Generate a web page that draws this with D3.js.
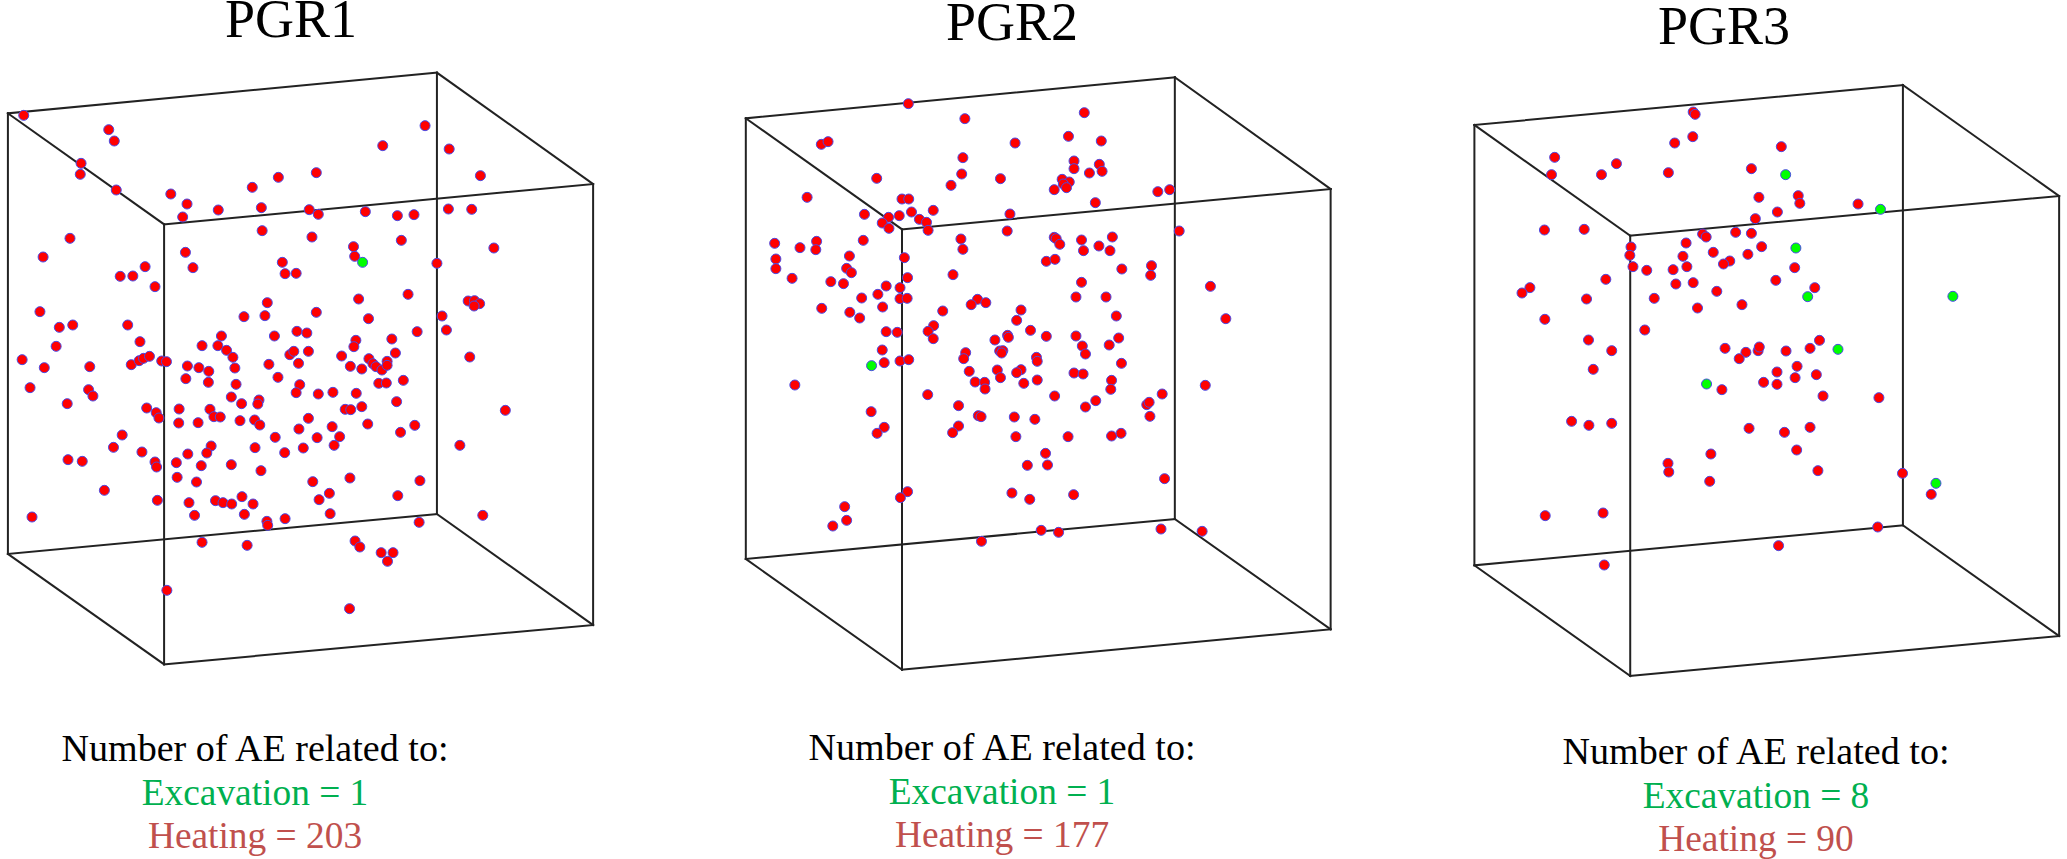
<!DOCTYPE html>
<html>
<head>
<meta charset="utf-8">
<style>
  html, body { margin: 0; background: #fff; }
  svg { display: block; }
  text { font-family: "Liberation Serif", serif; text-anchor: middle; }
</style>
</head>
<body>
<div id="chart"></div>
<script src="https://d3js.org/d3.v7.min.js"></script>
<script>
// Values, in projected plot units
var titles = ["PGR1", "PGR2", "PGR3"];
var excavationCounts = [1, 1, 8];
var heatingCounts = [203, 177, 90];

var cube1 = [[20,160],[1105,38],[1500,372],[415,493],[20,1482],[1105,1362],[1500,1695],[415,1813]];
var cube2 = [[40,115],[1125,-8],[1519,327],[435,448],[40,1437],[1125,1317],[1519,1648],[435,1769]];
var cube3 = [[62,105],[1151,-15],[1548,318],[458,437],[62,1426],[1151,1306],[1548,1638],[458,1758]];

var pgr1Heating = [[60,166],[275,209],[289,243],[205,310],[203,343],[294,390],[432,402],[473,432],[462,471],[552,450],[661,443],[638,382],[704,352],[800,338],[968,257],[1075,197],[1136,267],[1215,347],[782,449],[805,463],[924,455],[1005,467],[1047,464],[1134,447],[1193,448],[663,512],[789,531],[1015,541],[1249,564],[894,560],[897,589],[177,535],[109,591],[469,577],[488,623],[367,620],[304,649],[336,648],[392,680],[714,607],[721,641],[749,640],[1105,610],[1032,703],[907,717],[676,728],[1184,723],[1200,722],[1213,731],[1199,738],[101,755],[150,802],[184,795],[323,795],[617,770],[670,767],[800,757],[932,776],[1118,768],[1129,810],[560,828],[694,828],[751,814],[776,819],[1055,815],[900,841],[895,860],[991,837],[354,845],[511,857],[551,857],[142,859],
  [573,871],[589,892],[733,884],[743,874],[780,874],[864,888],[1000,879],[933,896],[1188,891],[56,899],[112,923],[227,920],[332,914],[352,902],[363,895],[378,889],[409,903],[421,905],[474,918],[503,923],[528,934],[594,924],[680,913],[755,910],[886,919],[915,927],[943,911],[951,920],[966,930],[979,904],[979,916],[470,956],[527,967],[597,973],[703,952],[758,974],[749,998],[805,1002],[842,997],[901,1000],[958,970],[977,969],[1020,961],[76,983],[224,989],[235,1008],[170,1031],[585,1011],[655,1020],[652,1032],[611,1031],[1003,1025],[371,1044],[395,1058],[402,1074],[453,1047],[531,1048],[541,1070],[557,1071],[873,1048],[887,1049],[915,1040],[1278,1051],[452,1089],[501,1088],[607,1082],[644,1080],[657,1095],[780,1075],[840,1100],[756,1107],[930,1092],[1049,1096],[1013,1117],[309,1125],[696,1132],[802,1133],[859,1130],[845,1156],[287,1162],[534,1158],[645,1163],[767,1164],[1163,1156],[359,1176],[523,1179],[720,1178],[475,1182],[172,1199],[208,1204],[392,1206],[396,1221],[446,1208],[509,1217],[585,1214],[660,1232],[448,1252],[497,1266],[791,1265],[885,1254],[1062,1262],[264,1291],[833,1300],[807,1319],[1006,1307],[398,1321],[478,1328],[545,1322],[564,1328],[586,1332],[612,1310],[640,1332],[492,1366],[618,1363],[835,1361],[721,1376],[675,1384],[677,1396],[81,1371],[1221,1366],[1060,1387],[511,1447],[625,1456],[898,1443],[910,1461],[964,1478],[994,1478],[980,1504],[422,1591],[884,1646]];
var pgr1Excavation = [[917,607]];

var pgr2Heating = [[451,71],[594,116],[896,98],[231,193],[248,185],[721,189],[856,169],[939,183],[589,233],[870,243],[870,266],[934,253],[941,274],[909,279],[586,282],[684,296],[371,295],[559,316],[840,298],[858,306],[843,312],[851,323],[820,329],[1082,335],[1112,329],[195,352],[435,357],[452,357],[924,368],[514,391],[459,396],[428,407],[340,403],[401,412],[479,418],[385,429],[497,427],[708,402],[402,445],[501,451],[701,453],[1136,453],[113,490],[177,503],[219,484],[217,509],[337,481],[584,477],[589,508],[820,472],[825,476],[834,493],[889,480],[894,512],[933,498],[967,471],[961,512],[302,528],[441,533],[800,544],[822,538],[116,537],[116,566],[295,565],[307,578],[157,595],[255,605],[287,611],[449,593],[564,584],[991,567],[1066,557],[1064,586],[889,607],[1215,619],[395,618],[430,623],[374,643],[333,654],[430,656],[448,655],[626,658],[610,674],[647,668],[875,651],[951,651],[232,685],[386,681],[303,697],[328,714],[538,693],[736,690],[725,721],[977,708],[1254,716],[515,737],[501,754],[514,776],[395,755],[423,757],[702,766],[704,772],[670,780],[760,751],[800,769],[875,768],[983,774],[959,795],[891,798],[899,822],[596,818],[591,836],[682,813],[690,812],[687,819],[775,832],[777,844],[385,810],[390,848],[430,843],[452,839],[990,850],
  [605,874],[676,870],[736,869],[725,878],[684,893],[870,879],[893,882],[620,906],[644,907],[645,927],[743,910],[777,900],[965,901],[963,928],[164,915],[1202,916],[500,944],[821,948],[925,962],[1093,942],[899,981],[1054,974],[1060,967],[578,977],[357,995],[628,1007],[635,1010],[719,1011],[771,1018],[1062,1009],[390,1042],[372,1060],[578,1038],[563,1058],[723,1070],[855,1070],[965,1068],[989,1060],[798,1120],[752,1156],[803,1155],[1099,1196],[449,1235],[431,1253],[713,1239],[758,1258],[869,1244],[290,1280],[295,1321],[260,1338],[1090,1347],[787,1351],[831,1357],[1194,1354],[636,1384]];
var pgr2Excavation = [[358,857]];

var pgr3Heating = [[618,66],[623,73],[617,140],[571,159],[842,170],[266,202],[423,221],[258,254],[385,254],[555,248],[766,236],[785,322],[885,317],[889,340],[1037,342],[832,366],[776,386],[240,420],[341,418],[726,427],[766,430],[642,432],[651,441],[600,459],[460,471],[457,496],[792,470],[669,487],[592,499],[757,493],[711,513],[695,522],[465,530],[602,530],[876,533],[500,541],[567,539],[396,568],[574,582],[618,578],[828,571],[927,593],[203,593],[183,609],[678,604],[347,627],[519,625],[742,644],[629,654],[241,688],[495,720],[352,750],[411,782],[699,775],[752,787],[735,806],[783,782],[786,771],[854,783],[915,775],[939,751],[364,838],[882,829],[831,846],[877,863],[931,854],[797,877],[831,883],
  [691,899],[948,918],[1090,923],[309,994],[353,1006],[411,1000],[760,1015],[850,1027],[915,1012],[881,1080],[663,1092],[554,1120],[556,1146],[935,1142],[660,1174],[1150,1150],[1223,1213],[242,1277],[389,1269],[1087,1311],[835,1367],[392,1425]];
var pgr3Excavation = [[853,254],[1094,358],[879,474],[909,620],[1278,619],[986,778],[652,882],[1235,1180]];

// Which corners of a cube are joined
var cubeEdges = [[0,1],[1,2],[2,3],[3,0],[4,5],[5,6],[6,7],[7,4],[0,4],[1,5],[2,6],[3,7]];

// Where each panel sits on the page
var panels = [
  {title: titles[0], cube: cube1, heating: pgr1Heating, excavation: pgr1Excavation, excavationCount: excavationCounts[0], heatingCount: heatingCounts[0],
   left: 0, top: 60, plotWidth: 620, titleX: 291, titleY: 37, noteX: 255, noteY: 761},
  {title: titles[1], cube: cube2, heating: pgr2Heating, excavation: pgr2Excavation, excavationCount: excavationCounts[1], heatingCount: heatingCounts[1],
   left: 730, top: 80, plotWidth: 620, titleX: 1012, titleY: 40, noteX: 1002, noteY: 760},
  {title: titles[2], cube: cube3, heating: pgr3Heating, excavation: pgr3Excavation, excavationCount: excavationCounts[2], heatingCount: heatingCounts[2],
   left: 1450, top: 90, plotWidth: 617, titleX: 1724, titleY: 44, noteX: 1756, noteY: 764}
];

var svg = d3.select("#chart")
  .append("svg")
  .attr("width", 2067)
  .attr("height", 859);

panels.forEach(function(panel) {
  var xScale = d3.scaleLinear()
    .domain([0, 1568])
    .range([panel.left, panel.left + panel.plotWidth]);

  var yScale = d3.scaleLinear()
    .domain([0, 1860])
    .range([panel.top, panel.top + 620]);

  var group = svg.append("g");

  // Cube wireframe
  group.selectAll("line")
    .data(cubeEdges)
    .enter()
    .append("line")
    .attr("x1", d => xScale(panel.cube[d[0]][0]))
    .attr("y1", d => yScale(panel.cube[d[0]][1]))
    .attr("x2", d => xScale(panel.cube[d[1]][0]))
    .attr("y2", d => yScale(panel.cube[d[1]][1]))
    .attr("stroke", "#222")
    .attr("stroke-width", 2)
    .attr("stroke-linecap", "square");

  // Events
  group.selectAll("circle.heating")
    .data(panel.heating)
    .enter()
    .append("circle")
    .attr("class", "heating")
    .attr("cx", d => xScale(d[0]))
    .attr("cy", d => yScale(d[1]))
    .attr("r", 5)
    .attr("fill", "#ff0000")
    .attr("stroke", "#4a4ae6")
    .attr("stroke-width", 1);

  group.selectAll("circle.excavation")
    .data(panel.excavation)
    .enter()
    .append("circle")
    .attr("class", "excavation")
    .attr("cx", d => xScale(d[0]))
    .attr("cy", d => yScale(d[1]))
    .attr("r", 5)
    .attr("fill", "#00ff00")
    .attr("stroke", "#4a4ae6")
    .attr("stroke-width", 1);

  // Labels
  group.append("text")
    .attr("x", panel.titleX)
    .attr("y", panel.titleY)
    .style("font-size", "54px")
    .attr("fill", "#000")
    .text(panel.title);

  group.append("text")
    .attr("x", panel.noteX)
    .attr("y", panel.noteY)
    .style("font-size", "38.1px")
    .attr("fill", "#000")
    .text("Number of AE related to:");

  group.append("text")
    .attr("x", panel.noteX)
    .attr("y", panel.noteY + 44)
    .style("font-size", "37.4px")
    .attr("fill", "#00b050")
    .text("Excavation = " + panel.excavationCount);

  group.append("text")
    .attr("x", panel.noteX)
    .attr("y", panel.noteY + 87)
    .style("font-size", "37.4px")
    .attr("fill", "#c0504d")
    .text("Heating = " + panel.heatingCount);
});
</script>
</body>
</html>
